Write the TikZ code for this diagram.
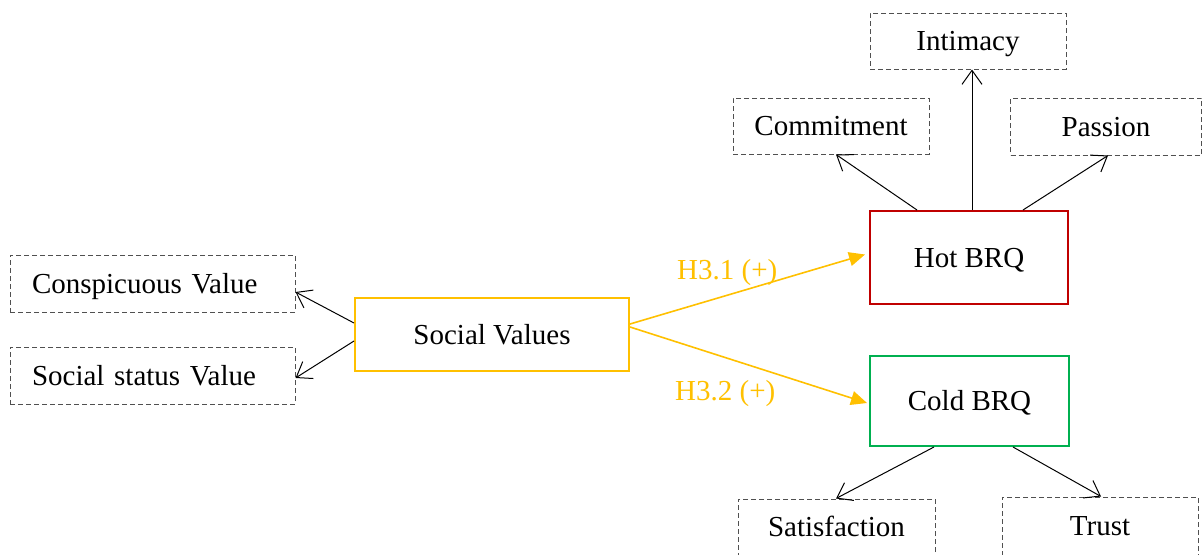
\documentclass[tikz,border=0pt]{standalone}
\usepackage{fontspec}
\setmainfont{Liberation Serif}
\usetikzlibrary{arrows.meta}
\definecolor{hyellow}{HTML}{FFC000}
\definecolor{hred}{HTML}{C00000}
\definecolor{hgreen}{HTML}{00B050}
\definecolor{dgray}{HTML}{505050}
\tikzset{
  txt/.style={font=\fontsize{29}{34}\selectfont, text height=19pt, text depth=0pt},
  dbox/.style={txt, draw=dgray, line width=1pt, dash pattern=on 5pt off 3pt, minimum width=#1, minimum height=56pt, inner sep=0pt},
  lbox/.style={txt, draw=dgray, line width=1pt, dash pattern=on 5pt off 3pt, text width=241pt, minimum height=57pt, inner xsep=22pt, inner ysep=0pt, align=left},
  cbox/.style={txt, draw=#1, line width=2pt, inner sep=0pt},
  barrow/.style={draw=black, line width=1pt, -{Straight Barb[length=14pt,width=20pt,line width=1pt]}},
  yarrow/.style={draw=hyellow, line width=1.6pt, -{Triangle[length=16pt,width=14pt]}},
  hlabel/.style={text=hyellow, font=\fontsize{29}{34}\selectfont, inner sep=0pt, anchor=base west}
}
\begin{document}
\begin{tikzpicture}[x=1pt,y=-1pt]
\useasboundingbox (0,0) rectangle (1204,554);
\node[lbox] (conspic) at (152.5,283.5) {Conspicuous Value};
\node[lbox] (socstat) at (152.5,375.5) {Social status Value};
\node[cbox=hyellow, minimum width=274pt, minimum height=73pt] (social) at (492,334.5) {Social Values};
\node[cbox=hred, minimum width=198pt, minimum height=93pt] (hot) at (969,257.5) {Hot BRQ};
\node[cbox=hgreen, minimum width=199pt, minimum height=90pt] (cold) at (969.5,401) {Cold BRQ};
\node[dbox=196pt] (intimacy) at (968,41) {Intimacy};
\node[dbox=196pt] (commit) at (831,126) {Commitment};
\node[dbox=191pt, minimum height=57pt] (passion) at (1106,126.5) {Passion};
\node[dbox=197pt] (satis) at (836.5,527) {Satisfaction};
\node[dbox=196pt, minimum height=58pt] (trust) at (1100,526) {Trust};

\draw[barrow] ([yshift=11.5pt]social.west) -- ([yshift=-8.5pt]conspic.east);
\draw[barrow] ([yshift=-6.5pt]social.west) -- ([yshift=-2.5pt]socstat.east);

\draw[barrow] ([xshift=-52pt]hot.north) -- ([xshift=5pt]commit.south);
\draw[barrow] ([xshift=3pt]hot.north) -- ([xshift=4pt]intimacy.south);
\draw[barrow] ([xshift=54pt]hot.north) -- ([xshift=2pt]passion.south);

\draw[barrow] ([xshift=-35.5pt]cold.south) -- ([xshift=-0.5pt]satis.north);
\draw[barrow] ([xshift=43.5pt]cold.south) -- ([xshift=1pt]trust.north);

\draw[yarrow] ([yshift=10.5pt]social.east) -- ([xshift=-4pt,yshift=3pt]hot.west);
\draw[yarrow] ([yshift=7.5pt]social.east) -- ([xshift=-2pt,yshift=-2pt]cold.west);
\node[hlabel] (h31) at (677,279) {H3.1 (+)};
\node[hlabel] (h32) at (675,400) {H3.2 (+)};
\end{tikzpicture}
\end{document}
